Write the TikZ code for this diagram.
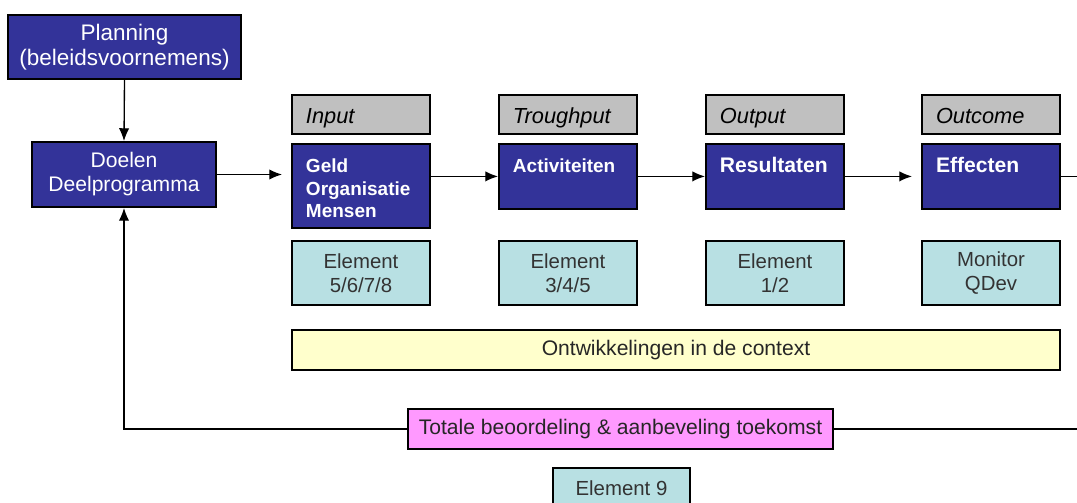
\documentclass[tikz,border=0pt]{standalone}
\usepackage{fontspec}
\setmainfont{Liberation Sans}
\usetikzlibrary{arrows.meta}
\definecolor{blauw}{RGB}{51,51,153}
\definecolor{grijs}{RGB}{192,192,192}
\definecolor{lichtblauw}{RGB}{184,224,227}
\definecolor{geel}{RGB}{255,255,204}
\definecolor{roze}{RGB}{255,153,255}

\begin{document}
\begin{tikzpicture}[x=0.025cm, y=-0.025cm, line width=0.95pt, >={Latex[length=3.2mm, width=2.6mm]},
    blok/.style={draw, line width=1.3pt, fill=blauw, text=white, align=center, font=\fontsize{16}{18}\selectfont},
    stap/.style={draw, line width=1.3pt, fill=blauw, text=white, minimum width=3.45cm, text width=2.75cm, inner xsep=0.35cm, inner ysep=0pt,
      align=left, text height=0.72cm, text depth=0.905cm, font=\fontsize{13.5}{16}\selectfont\bfseries},
    kop/.style={draw, line width=1.3pt, fill=grijs, minimum width=3.45cm, text width=2.75cm, inner xsep=0.35cm, inner ysep=0pt,
      align=left, text height=0.72cm, text depth=0.255cm, font=\fontsize{15.5}{18}\selectfont\itshape},
    elem/.style={draw, line width=1.3pt, fill=lichtblauw, text=black!80, minimum width=3.45cm, minimum height=1.6cm, align=center,
      font=\fontsize{14.5}{17}\selectfont},
    balk/.style={draw, line width=1.3pt, minimum height=1cm, text=black!85, font=\fontsize{15}{17}\selectfont}]
  \useasboundingbox (0,0) rectangle (1077,503);
  \clip (0,0) rectangle (1077,503);
  %
  \node[blok, minimum width=5.825cm, minimum height=1.6cm] (planning) at (124.5,47) {Planning\\(beleidsvoornemens)};
  \node[blok, minimum width=4.6cm, minimum height=1.625cm, font=\fontsize{15}{17}\selectfont] (doelen) at (124,174.5) {Doelen\\Deelprogramma};
  %
  \foreach \x/\naam/\tekst in {361/inp/Input, 568/act/Troughput, 775/res/Output, 991/eff/Outcome}
    \node[kop] (kop\naam) at (\x,94) [anchor=north] {\tekst};
  %
  \node[stap, text depth=1.38cm] (inp) at (361,143) [anchor=north] {Geld\\Organisatie\\Mensen};
  \node[stap] (act) at (568,143) [anchor=north] {Activiteiten};
  \node[stap, font=\fontsize{15}{17}\selectfont\bfseries] (res) at (775,143) [anchor=north] {Resultaten};
  \node[stap, font=\fontsize{15}{17}\selectfont\bfseries] (eff) at (991,143) [anchor=north] {Effecten};
  %
  \node[elem] (elinp) at (361,273) {Element\\5/6/7/8};
  \node[elem] (elact) at (568,273) {Element\\3/4/5};
  \node[elem] (elres) at (775,273) {Element\\1/2};
  \node[elem] (eleff) at (991,273) {Monitor\\QDev};
  %
  \node[balk, fill=geel, minimum width=19.2cm] (context) at (676,350) {Ontwikkelingen in de context};
  \node[balk, fill=roze, minimum width=10.625cm] (totaal) at (620.5,429) {Totale beoordeling \& aanbeveling toekomst};
  \node[elem, minimum width=3.425cm, minimum height=1cm] (el9) at (621.5,488) {Element 9};
  %
  \coordinate (rechtsboven) at (1077,174);
  \coordinate (rechtsonder) at (1077,429);
  %
  \draw[->] (planning.south) -- (doelen.north);
  \draw[->, shorten >=0.225cm] (doelen.east) -- (doelen.east -| inp.west);
  \draw[->] (act.west -| inp.east) -- (act.west);
  \draw[->] (act.east) -- (res.west);
  \draw[->, shorten >=0.225cm] (res.east) -- (eff.west);
  \draw (eff.east) -- (eff.east -| rechtsboven);
  %
  \draw (rechtsonder) -- (totaal.east);
  \draw[->] (totaal.west) -| (doelen.south);
\end{tikzpicture}
\end{document}
